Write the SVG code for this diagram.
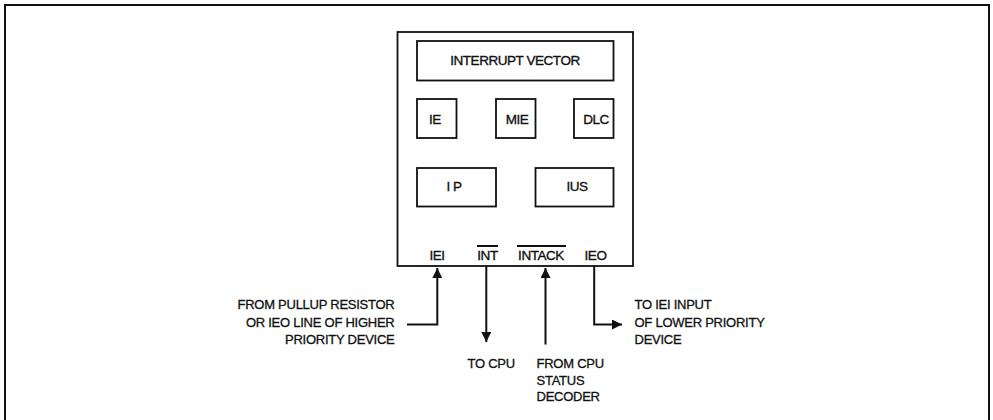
<svg xmlns="http://www.w3.org/2000/svg" width="993" height="420" viewBox="0 0 993 420">
<defs>
<style>
.box{fill:none;stroke:#111;stroke-width:1.8}
.ln{fill:none;stroke:#111;stroke-width:2}
.t{font-family:"Liberation Sans",Arial,sans-serif;font-size:13.5px;fill:#111;stroke:#111;stroke-width:0.35px;letter-spacing:-0.45px}
.s{font-family:"Liberation Sans",Arial,sans-serif;font-size:13px;fill:#111;stroke:#111;stroke-width:0.3px;letter-spacing:-0.25px}
.m{text-anchor:middle}
.e{text-anchor:end}
</style>
<marker id="ah" viewBox="0 0 10 10" refX="10" refY="5" markerWidth="5" markerHeight="5" orient="auto" markerUnits="strokeWidth">
<path d="M0,0 L10,5 L0,10 Z" fill="#111"/>
</marker>
</defs>
<rect width="993" height="420" fill="#fff"/>
<path d="M5,420 V5 H989 V420" fill="none" stroke="#111" stroke-width="2"/>
<g id="device">
<rect class="box" x="397.5" y="32" width="235.5" height="234"/>
</g>
<g id="vector">
<rect class="box" x="417" y="41" width="196.5" height="39.5"/>
<text class="t m" x="515" y="65">INTERRUPT VECTOR</text>
</g>
<g id="ie">
<rect class="box" x="417" y="99" width="39.5" height="39"/>
<text class="t m" x="435" y="123.5">IE</text>
</g>
<g id="mie">
<rect class="box" x="496" y="99" width="39.5" height="39"/>
<text class="t m" x="517" y="123.5">MIE</text>
</g>
<g id="dlc">
<rect class="box" x="574" y="99" width="39.5" height="39"/>
<text class="t m" x="596" y="123.5">DLC</text>
</g>
<g id="ip">
<rect class="box" x="417" y="168" width="79" height="38.5"/>
<text class="t m" x="454" y="191">I P</text>
</g>
<g id="ius">
<rect class="box" x="535.5" y="168" width="78" height="38.5"/>
<text class="t m" x="577" y="191">IUS</text>
</g>
<g id="pins">
<text class="t m" x="437" y="260">IEI</text>
<text class="t m" x="487.5" y="260">INT</text>
<line class="ln" x1="477" y1="246" x2="498" y2="246" stroke-width="1.3"/>
<text class="t m" x="541" y="260">INTACK</text>
<line class="ln" x1="517" y1="246" x2="566" y2="246" stroke-width="1.3"/>
<text class="t m" x="595.5" y="260">IEO</text>
</g>
<g id="connectors">
<path class="ln" d="M407,324.5 H437.3 V268" marker-end="url(#ah)"/>
<path class="ln" d="M486.3,266 V342" marker-end="url(#ah)"/>
<path class="ln" d="M545.5,344.5 V268" marker-end="url(#ah)"/>
<path class="ln" d="M594.2,266 V324.5 H622" marker-end="url(#ah)"/>
</g>
<g id="labels">
<text class="s e" x="394.5" y="308.5">FROM PULLUP RESISTOR</text>
<text class="s e" x="394.5" y="326.5">OR IEO LINE OF HIGHER</text>
<text class="s e" x="394.5" y="343.5">PRIORITY DEVICE</text>
<text class="s" x="467.5" y="367.5">TO CPU</text>
<text class="s" x="536.5" y="367.5">FROM CPU</text>
<text class="s" x="536.5" y="384.5">STATUS</text>
<text class="s" x="536.5" y="401">DECODER</text>
<text class="s" x="634.5" y="308.5">TO IEI INPUT</text>
<text class="s" x="634.5" y="326.5">OF LOWER PRIORITY</text>
<text class="s" x="634.5" y="343.5">DEVICE</text>
</g>
</svg>
